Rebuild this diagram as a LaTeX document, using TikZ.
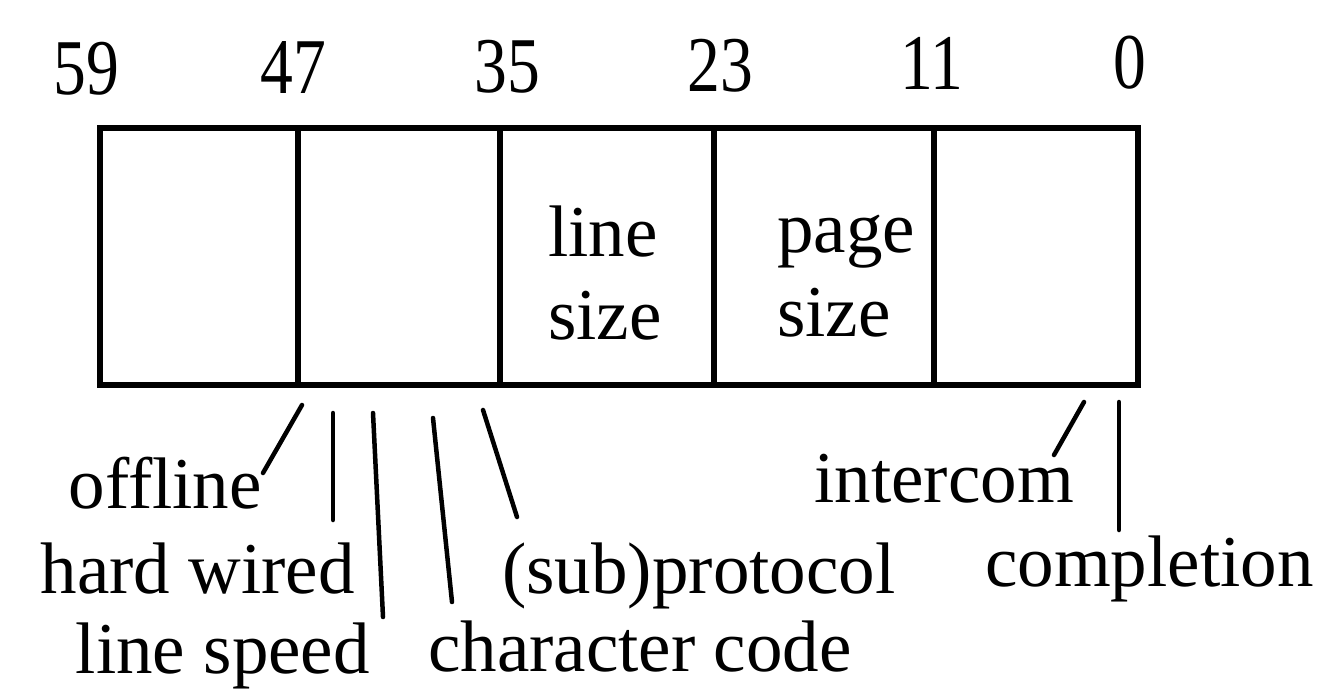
\documentclass[tikz,border=0pt]{standalone}
\usepackage{fontspec}
\setmainfont{Liberation Serif}
\newfontfamily\digitfont[FakeStretch=0.83]{Liberation Serif}
\begin{document}
\begin{tikzpicture}[x=1pt,y=-1pt,
  field/.style={draw,line width=5.5pt,inner sep=0pt,minimum height=257pt},
  lbl/.style={inner sep=0pt,font=\fontsize{73}{82}\selectfont},
  num/.style={inner sep=0pt,anchor=base,font=\digitfont\fontsize{79}{82}\selectfont},
  leader/.style={line width=4.5pt,line cap=round}]
\useasboundingbox (0,0) rectangle (1337,692);
% fields
\node[field,minimum width=198pt] (f1) at (199,256.5) {};
\node[field,minimum width=202pt] (f2) at (399,256.5) {};
\node[field,minimum width=214pt] (f3) at (607,256.5) {};
\node[field,minimum width=220pt] (f4) at (824,256.5) {};
\node[field,minimum width=204pt] (f5) at (1036,256.5) {};
% bit numbers
\node[num] (n59) at (86,95) {59};
\node[num] (n47) at (293,94) {47};
\node[num] (n35) at (507,93) {35};
\node[num] (n23) at (720,92) {23};
\node[num] (n11) at (932,90) {11};
\node[num] (n0) at (1130,89) {0};
% field texts
\node[lbl,anchor=base west] (ls1) at (548,257) {line};
\node[lbl,anchor=base west] (ls2) at (548,339) {size};
\node[lbl,anchor=base west] (ps1) at (777,253) {page};
\node[lbl,anchor=base west] (ps2) at (777,336) {size};
% bottom labels
\node[lbl,anchor=base east] (off) at (262,508) {offline};
\node[lbl,anchor=base east] (hw) at (355,593) {hard wired};
\node[lbl,anchor=base east] (lsp) at (370,673) {line speed};
\node[lbl,anchor=base west] (sub) at (502,593) {(sub)protocol};
\node[lbl,anchor=base west] (cc) at (428,671) {character code};
\node[lbl,anchor=base east] (ic) at (1074,502) {intercom};
\node[lbl,anchor=base west] (comp) at (985,586) {completion};
% leader ends
\coordinate (a1) at (302,405); \coordinate (b1) at (263,473);
\coordinate (a2) at (333,413); \coordinate (b2) at (333,520);
\coordinate (a3) at (373,413); \coordinate (b3) at (383,617);
\coordinate (a4) at (433,418); \coordinate (b4) at (452,602);
\coordinate (a5) at (483,410); \coordinate (b5) at (517,517);
\coordinate (a6) at (1084,402); \coordinate (b6) at (1054,455);
\coordinate (a7) at (1119,402); \coordinate (b7) at (1119,530);
\foreach \i in {1,...,7} \draw[leader] (a\i) -- (b\i);
\end{tikzpicture}
\end{document}
